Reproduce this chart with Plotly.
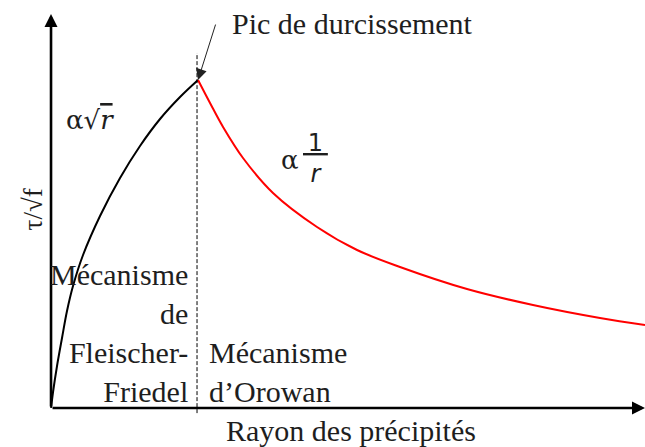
import plotly.graph_objects as go

# Fleischer-Friedel branch (shearing): tau grows roughly like sqrt(r)
r_shear = [0, 0.34, 1.01, 1.85, 2.69, 3.70, 5.39, 8.25, 11.62, 14.98, 18.35, 21.72, 24.75]
tau_shear = [0, 4.06, 10.66, 17.77, 24.62, 30.96, 38.83, 48.73, 58.38, 66.50, 73.35, 78.93, 83.25]

# Orowan branch (bypassing): tau decreases roughly like 1/r
r_orowan = [24.75, 26.77, 28.96, 32.32, 37.37, 44.78, 51.52, 58.75, 70.03, 81.14, 92.42, 100]
tau_orowan = [83.25, 77.41, 71.32, 63.45, 54.57, 45.94, 40.10, 35.79, 30.20, 26.14, 22.84, 21.07]

# critical radius and the dashed separator extent
r_peak = 24.58
sep_tau = [-1.3, 90.1]

SERIF = "Liberation Serif"
INK = "#1e1e1e"

fig = go.Figure()

fig.add_trace(go.Scatter(
    x=r_shear, y=tau_shear, mode="lines",
    line=dict(color="black", width=2, shape="spline", smoothing=1),
    hoverinfo="skip", showlegend=False))

fig.add_trace(go.Scatter(
    x=r_orowan, y=tau_orowan, mode="lines",
    line=dict(color="#ff0000", width=2, shape="spline", smoothing=1),
    hoverinfo="skip", showlegend=False))

fig.add_trace(go.Scatter(
    x=[r_peak, r_peak], y=sep_tau, mode="lines",
    line=dict(color="black", width=1, dash="4px,2px"),
    hoverinfo="skip", showlegend=False, cliponaxis=False))

annotations = []

# axes drawn as arrows from the origin
for hx, hy in [(0, 100), (100, 0)]:
    annotations.append(dict(
        x=hx, y=hy, ax=0, ay=0, xref="x", yref="y", axref="x", ayref="y",
        text="", showarrow=True, arrowhead=2, arrowsize=1, arrowwidth=2.6,
        arrowcolor="black", standoff=0, startstandoff=0))

# pointer to the hardening peak
annotations.append(dict(
    x=r_shear[-1], y=tau_shear[-1], ax=27.78, ay=97.7,
    xref="x", yref="y", axref="x", ayref="y",
    text="", showarrow=True, arrowhead=2, arrowsize=2.2, arrowwidth=1,
    arrowcolor="#222", standoff=0, startstandoff=0))

def label(text, x, y, size=30, xanchor="center", align="center",
          family=SERIF, angle=0):
    annotations.append(dict(
        x=x, y=y, xref="x", yref="y", text=text, showarrow=False,
        xanchor=xanchor, yanchor="middle", align=align, textangle=angle,
        borderpad=0, font=dict(family=family, size=size, color=INK)))

label("Pic de durcissement", 30.3, 97.7, xanchor="left", align="left")
label("Rayon des précipités", 50.5, -5.8)
label("τ/√f", -3.1, 50.3, size=27, angle=-90)
label("Mécanisme<br>de<br>Fleischer-<br>Friedel", 23.23, 19.0,
      xanchor="right", align="right")
label("Mécanisme<br>d’Orowan", 26.43, 9.2, xanchor="left", align="left")
label("α√<span style=\"text-decoration:overline\"><i>r</i></span>",
      6.57, 73.1, size=26, family="DejaVu Serif")
label("α", 40.3, 63.0, size=26, family="DejaVu Serif")
label("<u>\u20091\u2009</u><br><i>r</i>", 44.5, 63.2, size=24,
      family="DejaVu Sans")

axis_common = dict(visible=False, showgrid=False, zeroline=False, fixedrange=True)

fig.update_layout(
    width=645, height=447,
    margin=dict(l=0, r=0, t=0, b=0),
    paper_bgcolor="white", plot_bgcolor="white",
    xaxis=dict(range=[-8.59, 100], **axis_common),
    yaxis=dict(range=[-9.90, 103.55], **axis_common),
    annotations=annotations,
    showlegend=False,
)

fig.write_html("out.html")
